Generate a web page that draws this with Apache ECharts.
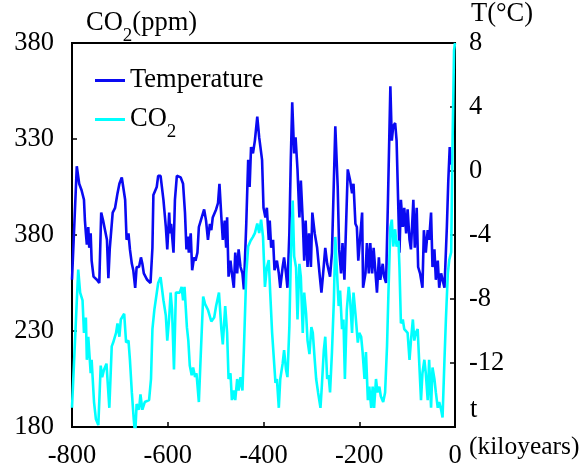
<!DOCTYPE html>
<html>
<head>
<meta charset="utf-8">
<script src="https://cdn.jsdelivr.net/npm/echarts@6/dist/echarts.min.js"></script>
<style>
html,body{margin:0;padding:0;background:#fff;}
#chart{width:584px;height:472px;}
</style>
</head>
<body>
<div id="chart"></div>
<script>
// ---- data ----
var tempYears = [-800,-790,-785,-780,-775,-773,-771,-769,-766,-764,-761,-759,-755,-748,-743,-739,-735,-731,-727,-724,-721,-715,-710,-705,-701,-696,-693,-689,-686,-682,-679,-675,-672,-668,-665,-660,-656,-653,-650,-643,-636,-632,-630,-627,-623,-620,-615,-609,-604,-601,-597,-595,-593,-588,-585,-581,-573,-568,-564,-561,-558,-556,-552,-549,-545,-542,-538,-535,-529,-524,-520,-516,-512,-509,-506,-499,-495,-492,-488,-485,-481,-478,-476,-473,-469,-466,-462,-459,-455,-452,-448,-444,-441,-436,-432,-429,-426,-422,-418,-413,-409,-403,-400,-396,-393,-389,-387,-384,-380,-377,-372,-368,-365,-360,-357,-353,-350,-346,-343,-340,-336,-333,-329,-325,-322,-318,-315,-312,-308,-305,-301,-298,-293,-288,-283,-279,-276,-271,-267,-261,-257,-250,-245,-242,-238,-235,-231,-224,-219,-215,-212,-208,-205,-202,-198,-194,-192,-187,-184,-180,-177,-173,-170,-167,-163,-159,-156,-151,-148,-144,-140,-135,-132,-129,-125,-122,-116,-113,-109,-106,-102,-99,-95,-92,-87,-84,-80,-77,-73,-68,-65,-61,-57,-54,-50,-47,-43,-40,-36,-33,-29,-26,-22,-17,-14,-11,-8];
var tempValues = [-6.8,0.3,-0.8,-1.2,-1.8,-3.1,-3.9,-4.6,-3.5,-4.8,-3.9,-5.6,-6.6,-6.8,-7.0,-2.6,-3.1,-3.7,-4.3,-6.7,-4.8,-2.6,-2.3,-1.4,-0.8,-0.4,-1.0,-1.8,-4.3,-3.9,-4.9,-5.8,-6.2,-7.3,-6.0,-6.0,-5.4,-5.8,-6.4,-6.8,-7.0,-4.8,-1.5,-1.4,-1.0,-0.3,-0.3,-1.8,-3.5,-4.9,-2.6,-3.9,-3.3,-5.1,-1.8,-0.3,-0.4,-0.8,-2.6,-4.9,-4.1,-5.1,-3.9,-6.2,-5.4,-5.6,-5.1,-3.5,-2.9,-2.4,-3.1,-4.3,-3.3,-3.7,-2.9,-2.4,-2.0,-0.8,-2.9,-4.3,-3.1,-4.8,-2.9,-6.6,-5.6,-6.4,-7.3,-5.1,-6.4,-4.9,-6.0,-6.4,-7.4,-3.3,0.7,-1.0,1.5,1.1,1.9,3.4,2.1,0.7,-2.3,-2.9,-2.3,-4.3,-3.1,-4.8,-4.3,-6.2,-5.6,-6.4,-7.3,-6.0,-5.4,-6.4,-7.3,-3.9,0.7,4.3,1.1,2.1,0.1,-2.9,-0.6,-3.1,-5.6,-3.1,-6.0,-3.9,-6.0,-2.6,-3.9,-4.8,-6.4,-7.6,-6.6,-4.8,-5.8,-6.6,-5.1,2.8,-1.0,-4.9,-6.4,-4.5,-6.8,0.1,-0.6,-1.4,-0.8,-3.3,-3.5,-5.6,-5.6,-2.6,-7.3,-6.4,-4.5,-6.4,-4.5,-6.4,-4.8,-6.0,-7.6,-5.4,-6.8,-5.8,-6.6,-7.0,-1.8,5.3,1.9,2.8,3.0,1.9,-5.1,-1.8,-3.5,-2.3,-3.9,-2.4,-4.3,-4.9,-1.8,-4.8,-2.3,-6.0,-6.4,-7.3,-3.7,-5.1,-3.7,-4.3,-2.6,-6.0,-4.9,-6.8,-5.6,-7.3,-6.4,-6.8,-7.3,-3.5,-0.6,1.5,0.4];
var co2Years = [-800,-796,-787,-783,-778,-775,-771,-769,-766,-761,-759,-754,-750,-745,-740,-737,-733,-728,-722,-717,-714,-708,-705,-701,-698,-694,-691,-687,-682,-679,-675,-671,-668,-665,-660,-657,-653,-648,-644,-639,-635,-632,-628,-620,-615,-609,-604,-601,-597,-594,-591,-587,-583,-580,-575,-571,-568,-565,-560,-557,-554,-550,-547,-543,-540,-535,-531,-526,-522,-516,-509,-503,-499,-493,-488,-485,-480,-476,-473,-469,-466,-462,-459,-455,-452,-448,-444,-441,-436,-432,-427,-422,-418,-413,-409,-405,-401,-397,-393,-389,-386,-382,-379,-375,-372,-368,-365,-360,-357,-353,-350,-346,-343,-339,-336,-332,-329,-325,-322,-318,-315,-311,-308,-304,-300,-297,-293,-290,-286,-281,-278,-274,-271,-267,-264,-261,-257,-253,-250,-247,-243,-240,-236,-233,-230,-226,-222,-219,-215,-212,-208,-203,-200,-196,-193,-189,-186,-182,-179,-175,-172,-169,-165,-162,-158,-155,-150,-146,-142,-139,-135,-132,-129,-125,-122,-118,-116,-113,-109,-106,-102,-99,-95,-92,-88,-85,-82,-78,-75,-71,-68,-64,-61,-57,-54,-50,-47,-43,-40,-36,-33,-29,-26,-22,-19,-15,-12,-8,-5,-2,0];
var co2Values = [190,190,262,250,246,229,237,215,227,208,215,193,184,181,212,206,210,213,190,222,224,229,234,227,236,237,239,224,225,215,198,184,176,192,189,197,189,193,192,194,205,231,241,255,258,246,238,225,237,250,241,210,250,250,250,253,246,253,232,225,212,207,211,206,208,193,218,248,244,241,235,237,243,250,231,223,243,229,205,208,194,199,194,205,199,206,199,220,260,274,277,279,281,286,281,288,279,253,263,267,250,229,228,203,205,190,205,213,220,210,206,232,267,298,269,263,236,265,258,229,250,239,225,218,232,229,215,205,198,190,202,220,227,205,207,198,219,246,279,263,243,251,231,236,205,241,253,246,229,250,239,224,229,227,219,205,219,194,201,190,201,190,205,198,201,196,193,198,222,250,284,288,274,283,274,277,263,234,236,231,232,229,215,225,236,225,229,231,215,194,208,215,208,194,215,190,211,205,198,190,193,189,185,215,236,260,267,271,330,376,380];
var xTicks = [-800, -600, -400, -200, 0];
var co2TickLabels = ['180', '230', '380', '330', '380'];
var tempTickValues = [-16, -12, -8, -4, 0, 4, 8];
var tempTickLabels = ['', '-12', '-8', '-4', '0', '4', '8'];

var FONT = 'Liberation Serif';
var FS = 26.5;
function zip(a, b) { return a.map(function (v, i) { return [v, b[i]]; }); }

var chart = echarts.init(document.getElementById('chart'), null, {renderer: 'canvas'});
var axisLineStyle = {color: '#000', width: 2};
var subRich = {
  n: {fontFamily: FONT, fontSize: FS, color: '#000', fill: '#000', lineHeight: 28},
  s: {fontFamily: FONT, fontSize: 19, color: '#000', fill: '#000', lineHeight: 19, verticalAlign: 'bottom', padding: [0, 0, -8, 0]}
};
chart.setOption({
  animation: false,
  backgroundColor: '#fff',
  grid: {left: 72, right: 129, top: 43, bottom: 45, show: true, borderColor: '#000', borderWidth: 2, backgroundColor: 'transparent'},
  legend: {
    orient: 'vertical', left: 90, top: 62, itemWidth: 30, itemHeight: 3, itemGap: 12,
    icon: 'rect',
    data: ['Temperature', 'CO2'],
    formatter: function (n) { return n === 'CO2' ? '{n|CO}{s|2}' : '{n|' + n + '}'; },
    textStyle: {color: '#000', fontFamily: FONT, fontSize: FS, rich: subRich}
  },
  xAxis: {
    type: 'value', min: xTicks[0], max: xTicks[xTicks.length - 1], interval: 200,
    axisLine: {onZero: false, lineStyle: axisLineStyle},
    axisTick: {inside: true, length: 5, lineStyle: {color: '#000', width: 1.5}},
    splitLine: {show: false},
    axisLabel: {color: '#000', fontFamily: FONT, fontSize: FS, margin: 16}
  },
  yAxis: [
    {
      type: 'value', min: 180, max: 380, interval: 50, position: 'left',
      axisLine: {show: true, onZero: false, lineStyle: axisLineStyle},
      axisTick: {show: true, inside: true, length: 5, lineStyle: {color: '#000', width: 1.5}},
      splitLine: {show: false},
      axisLabel: {color: '#000', fontFamily: FONT, fontSize: FS, margin: 18,
        formatter: function (v) { return co2TickLabels[Math.round((v - 180) / 50)]; }}
    },
    {
      type: 'value', min: -16, max: 8, interval: 4, position: 'right',
      axisLine: {show: true, onZero: false, lineStyle: axisLineStyle},
      axisTick: {show: true, inside: true, length: 5, lineStyle: {color: '#000', width: 1.5}},
      splitLine: {show: false},
      axisLabel: {color: '#000', fontFamily: FONT, fontSize: FS, margin: 14,
        formatter: function (v) { return tempTickLabels[tempTickValues.indexOf(v)]; }}
    }
  ],
  series: [
    {name: 'Temperature', type: 'line', yAxisIndex: 1, data: zip(tempYears, tempValues),
      symbol: 'none', color: '#0a0af2', lineStyle: {color: '#0a0af2', width: 2.6}},
    {name: 'CO2', type: 'line', yAxisIndex: 0, data: zip(co2Years, co2Values),
      symbol: 'none', color: '#00ffff', lineStyle: {color: '#00ffff', width: 2.6}}
  ],
  graphic: [
    {type: 'text', left: 86, top: 10, style: {text: '{n|CO}{s|2}{n|(ppm)}', fill: '#000', rich: subRich}},
    {type: 'text', left: 471, top: 1, style: {text: 'T(\u00b0C)', fontFamily: FONT, fontSize: FS, fill: '#000'}},
    {type: 'text', left: 470, top: 397, style: {text: 't', fontFamily: FONT, fontSize: FS, fill: '#000'}},
    {type: 'text', left: 469, top: 434, style: {text: '(kiloyears)', fontFamily: FONT, fontSize: 25.5, fill: '#000'}}
  ]
});
</script>
</body>
</html>
